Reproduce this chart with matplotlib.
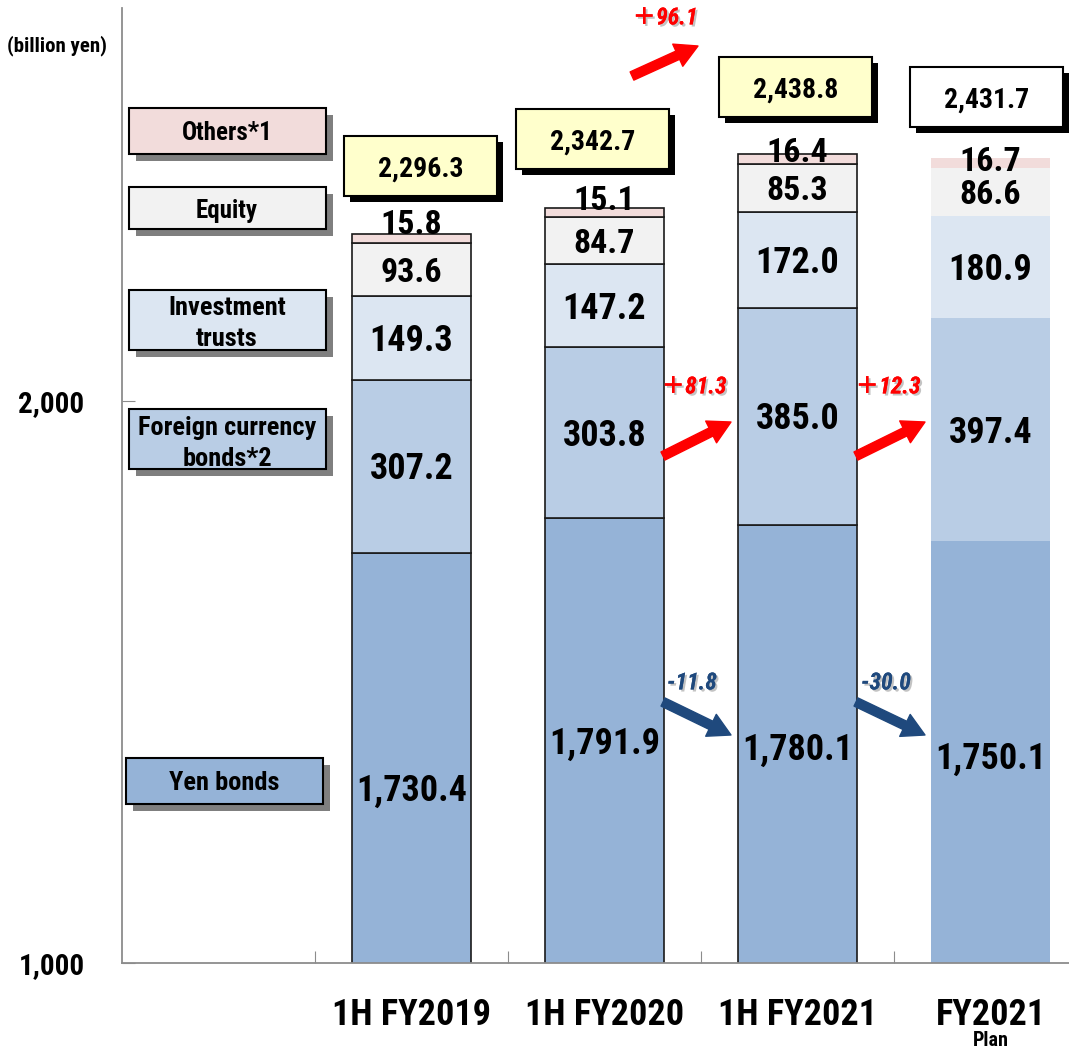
import matplotlib
matplotlib.use("Agg")
import matplotlib.pyplot as plt
from matplotlib import font_manager
from matplotlib.patches import Rectangle, FancyArrowPatch
from matplotlib.transforms import IdentityTransform
import matplotlib.patheffects as pe

# ---- data (billion yen) ----
periods = ["1H FY2019", "1H FY2020", "1H FY2021", "FY2021"]
period_note = "Plan"
yen_bonds = [1730.4, 1791.9, 1780.1, 1750.1]
foreign_bonds = [307.2, 303.8, 385.0, 397.4]
investment_trusts = [149.3, 147.2, 172.0, 180.9]
equity = [93.6, 84.7, 85.3, 86.6]
others = [15.8, 15.1, 16.4, 16.7]
totals = [2296.3, 2342.7, 2438.8, 2431.7]
total_change = 96.1
foreign_changes = [81.3, 12.3]
yen_changes = [-11.8, -30.0]
series_names = ["Yen bonds", "Foreign currency\nbonds*2", "Investment\ntrusts",
                "Equity", "Others*1"]
y_ticks = [1000, 2000]
unit_label = "(billion yen)"


def pick_font():
    """Prefer a narrow bold sans; fall back to a regular-width one."""
    for name in ("Liberation Sans Narrow", "Arial Narrow", "Roboto Condensed"):
        try:
            font_manager.findfont(font_manager.FontProperties(family=name),
                                  fallback_to_default=False)
            return name, "normal", 1.0
        except Exception:
            pass
    try:
        path = font_manager.findfont(
            font_manager.FontProperties(family="DejaVu Sans", stretch="condensed",
                                        weight="bold"),
            fallback_to_default=False)
        if "Condensed" in path:
            return "DejaVu Sans", "condensed", 0.9
    except Exception:
        pass
    return "Liberation Sans", "normal", 0.86


BASE, STRETCH, SCALE = pick_font()
plt.rcParams["font.family"] = [BASE, "Noto Sans CJK JP", "DejaVu Sans"]
plt.rcParams["font.weight"] = "bold"
plt.rcParams["font.stretch"] = STRETCH


def fs(size):
    return size * SCALE


W, H, DPI = 1069, 1049, 100
fig = plt.figure(figsize=(W / DPI, H / DPI), dpi=DPI)
fig.patch.set_facecolor("white")

ax_left, ax_bottom, ax_top = 122, 963, 7.6
ax = fig.add_axes([ax_left / W, (H - ax_bottom) / H,
                   (W - ax_left) / W, (ax_bottom - ax_top) / H])
slot = 193.0
ax.set_xlim(-0.5, -0.5 + (W - ax_left) / slot)
ax.set_ylim(1000, 2700)

colors = ["#95B3D7", "#B9CDE5", "#DCE6F2", "#F2F2F2", "#F2DCDB"]
stack = [yen_bonds, foreign_bonds, investment_trusts, equity, others]
xs = [1, 2, 3, 4]
bar_w = 0.62
edge_cols = ["#1a1a1a"] * 3 + ["none"]

bottoms = [0.0] * 4
seg_bottoms = []
for vals, col in zip(stack, colors):
    ax.bar(xs, vals, bottom=bottoms, width=bar_w, color=col,
           edgecolor=edge_cols, linewidth=1.2, zorder=2)
    seg_bottoms.append(list(bottoms))
    bottoms = [b + v for b, v in zip(bottoms, vals)]

# axes styling
for s in ("top", "right"):
    ax.spines[s].set_visible(False)
for s in ("left", "bottom"):
    ax.spines[s].set_color("#8c8c8c")
    ax.spines[s].set_linewidth(1.3)
ax.set_yticks(y_ticks)
ax.set_yticklabels([f"{v:,}" for v in y_ticks], fontsize=fs(21), fontweight="bold")
ax.tick_params(axis="y", direction="in", length=9, color="#8c8c8c", pad=27)
ax.set_xticks([0.5, 1.5, 2.5, 3.5])
ax.set_xticklabels([])
ax.tick_params(axis="x", direction="in", length=9, color="#8c8c8c")


def cap_off(size):
    return 0.358 * size * DPI / 72.0


def label_at(x, y, s, size, dy_px=0.0, **kw):
    """Label whose digit body is centred on the data point (x, y)."""
    ax.annotate(s, xy=(x, y), xytext=(0, -cap_off(size) + dy_px),
                textcoords="offset pixels", ha="center", va="baseline",
                fontsize=size, fontweight="bold", zorder=5,
                annotation_clip=False, **kw)


def fig_text(px, py, s, size, **kw):
    fig.text(px, H - py - cap_off(size), s, transform=IdentityTransform(),
             ha="center", va="baseline", fontsize=size, fontweight="bold", **kw)


def fig_rect(px, py, w, h, face, shadow, off=6, lw=1.5):
    fig.add_artist(Rectangle((px + off, H - py - h - off), w, h,
                             transform=IdentityTransform(), facecolor=shadow,
                             edgecolor="none", zorder=3))
    fig.add_artist(Rectangle((px, H - py - h), w, h, transform=IdentityTransform(),
                             facecolor=face, edgecolor="black", linewidth=lw,
                             zorder=4))


# segment value labels
VAL_BIG, VAL_SMALL = fs(26), fs(24.5)
yen_nudge = [-30, 0, -3, -4]
for i, x in enumerate(xs):
    top = yen_bonds[i]
    label_at(x, (1000 + top) / 2, f"{yen_bonds[i]:,.1f}", VAL_BIG, dy_px=yen_nudge[i])
    for k, size in ((1, VAL_BIG), (2, VAL_BIG), (3, VAL_SMALL)):
        b = seg_bottoms[k][i]
        v = stack[k][i]
        label_at(x, b + v / 2, f"{v:,.1f}", size)

# "Others" labels sit on the top edge of each bar
others_baseline = [0, -2, -8, -13]
for i, x in enumerate(xs):
    ax.annotate(f"{others[i]:,.1f}", xy=(x, totals[i]),
                xytext=(0, others_baseline[i]), textcoords="offset pixels",
                ha="center", va="baseline", fontsize=VAL_SMALL, fontweight="bold",
                zorder=5)

# total boxes above each bar
fig.canvas.draw()
box_dx = [9, -12, -2, -4]
box_dy = [68, 69, 67, 61]
box_w, box_h = 153, 60
for i, x in enumerate(xs):
    px, py_disp = ax.transData.transform((x, totals[i]))
    cx = px + box_dx[i]
    cy = (H - py_disp) - box_dy[i]
    face = "#FFFFCC" if i < 3 else "white"
    fig_rect(cx - box_w / 2, cy - box_h / 2, box_w, box_h, face, "black", off=6)
    fig_text(cx, cy, f"{totals[i]:,.1f}", fs(20), zorder=6)

# category labels
CAT = fs(26)
for i, x in enumerate(xs):
    ax.annotate(periods[i], xy=(x, 0), xycoords=("data", "axes fraction"),
                xytext=(0, -49 - cap_off(CAT)), textcoords="offset pixels",
                ha="center", va="baseline", fontsize=CAT, fontweight="bold",
                annotation_clip=False)
NOTE = fs(14.5)
ax.annotate(period_note, xy=(xs[-1], 0), xycoords=("data", "axes fraction"),
            xytext=(0, -76 - cap_off(NOTE)), textcoords="offset pixels",
            ha="center", va="baseline", fontsize=NOTE, fontweight="bold",
            annotation_clip=False)

# unit label
fig_text(57, 44, unit_label, fs(15))

# series name boxes on the left
name_boxes = [
    (126, 758, 46, [781], series_names[0], colors[0]),
    (129, 409, 60, [426, 457], series_names[1], colors[1]),
    (129, 290, 60, [306, 337], series_names[2], colors[2]),
    (129, 187, 42, [209], series_names[3], colors[3]),
    (129, 108, 46, [131], series_names[4], colors[4]),
]
for px, py, h, line_ys, name, col in name_boxes:
    fig_rect(px, py, 197, h, col, "#7f7f7f", off=7)
    size = 19 if len(line_ys) == 2 or name.startswith("Yen") else 18
    for ly, line in zip(line_ys, name.split("\n")):
        fig_text(px + 98, ly, line, fs(size), zorder=6)

# change arrows with labels
shadow = [pe.withSimplePatchShadow(offset=(1.5, -1.5), shadow_rgbFace="#888888",
                                   alpha=0.5), pe.Normal()]
RED, BLUE = "#FF0000", "#1F497D"


def arrow(p0, p1, color):
    a = FancyArrowPatch((p0[0], H - p0[1]), (p1[0], H - p1[1]),
                        transform=IdentityTransform(),
                        arrowstyle="simple,head_length=1.6,head_width=1.75,tail_width=0.65",
                        mutation_scale=10, color=color, shrinkA=0, shrinkB=0,
                        zorder=7)
    fig.add_artist(a)


def change_text(px, py, value, color):
    s = f"＋{value:.1f}" if value > 0 else f"{value:.1f}"
    fig_text(px, py, s, fs(17), color=color, style="italic", zorder=8,
             path_effects=shadow)


arrow((632, 76), (698, 46), RED)
change_text(665, 16, total_change, RED)
for (x0, x1, tx), fc, yc in zip(((663, 731, 694), (856, 925, 888)),
                                foreign_changes, yen_changes):
    arrow((x0, 456), (x1, 422), RED)
    change_text(tx, 385, fc, RED)
    arrow((x0, 702), (x1, 735), BLUE)
    change_text(tx - 2, 681, yc, BLUE)

fig.savefig("out.png", dpi=DPI)
